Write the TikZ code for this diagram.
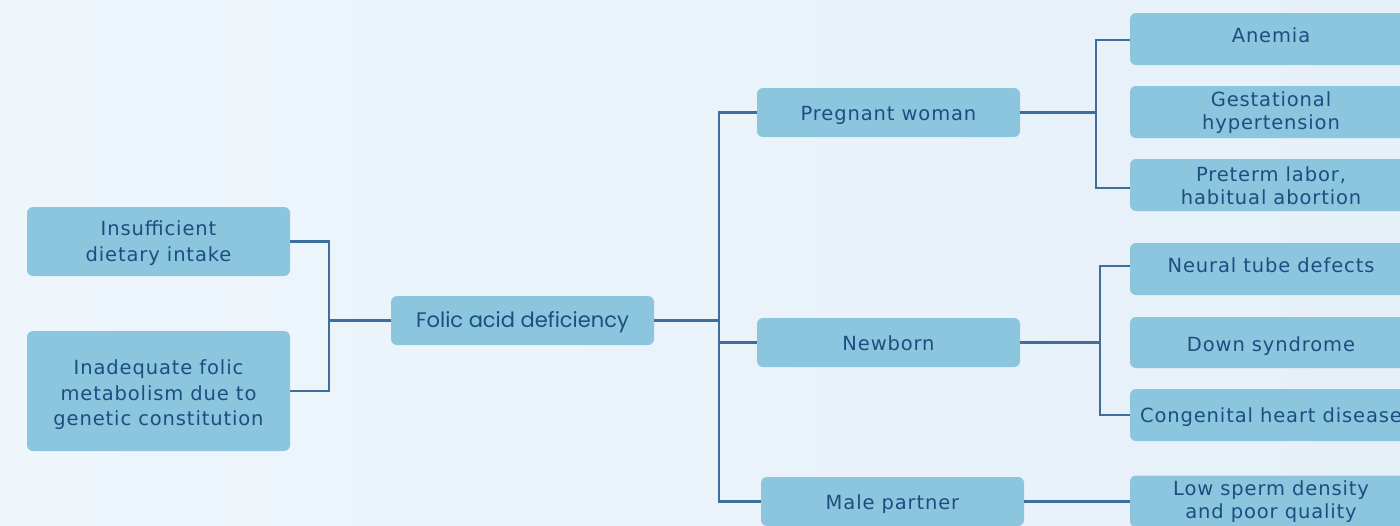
\documentclass[tikz,border=0pt]{standalone}
\usepackage{fontspec}
\setmainfont{DejaVu Sans}[LetterSpace=4.5]
\newfontfamily\popfont{Poppins}
\definecolor{bgA}{HTML}{EEF6FC}
\definecolor{bgB}{HTML}{E6F0F9}
\definecolor{boxfill}{HTML}{8CC5DE}
\definecolor{txtcol}{HTML}{1A4F80}
\definecolor{linecol}{HTML}{3C6E9E}
\newsavebox{\txbox}
\newcommand{\tx}[2]{\sbox{\txbox}{\begin{tabular}{@{}c@{}}#2\end{tabular}}\raisebox{#1}[\ht\txbox][\dp\txbox]{\usebox{\txbox}}}
\tikzset{
  box/.style={draw=none, fill=boxfill, rounded corners=6pt, inner sep=0pt,
    align=center, text=txtcol, font=\fontsize{19.5}{25.5}\selectfont},
  rbox/.style={box, minimum width=282pt, minimum height=52pt,
    font=\fontsize{19.5}{23}\selectfont},
  conn/.style={draw=linecol, line width=2.1pt}
}
\begin{document}
\begin{tikzpicture}[x=1pt,y=-1pt]
\useasboundingbox (0,0) rectangle (1400,525);
\clip (0,0) rectangle (1400,525);
\shade[left color=bgA, right color=bgB] (0,0) rectangle (1400,525);
% left column
\node[box, minimum width=263pt, minimum height=69pt] (ins) at (158.5,241.5) {\tx{-2pt}{Insufficient\\dietary intake}};
\node[box, minimum width=263pt, minimum height=120pt] (inad) at (158.5,391) {\tx{-4pt}{Inadequate folic\\metabolism due to\\genetic constitution}};
% centre
\node[box, minimum width=263pt, minimum height=49pt, font=\popfont\fontsize{21}{25}\selectfont] (folic) at (522.5,320.5) {\tx{-2pt}{Folic acid deficiency}};
% middle column
\node[box, minimum width=263pt, minimum height=49pt] (preg) at (888.5,112.5) {\tx{-3pt}{Pregnant woman}};
\node[box, minimum width=263pt, minimum height=49pt] (newb) at (888.5,342.5) {\tx{-3pt}{Newborn}};
\node[box, minimum width=263pt, minimum height=49pt] (male) at (892.5,501.5) {\tx{-3pt}{Male partner}};
% right column
\node[rbox] (anem) at (1271,39) {\tx{1pt}{Anemia}};
\node[rbox] (gest) at (1271,112) {\tx{-1pt}{Gestational\\hypertension}};
\node[rbox] (pret) at (1271,185) {\tx{-3pt}{Preterm labor,\\habitual abortion}};
\node[rbox] (neur) at (1271,269) {\tx{1pt}{Neural tube defects}};
\node[rbox, minimum height=51pt] (down) at (1271,342.5) {\tx{-4pt}{Down syndrome}};
\node[rbox] (cong) at (1271,415) {\tx{-3pt}{Congenital heart disease}};
\node[rbox] (low) at (1271,501.5) {\tx{-1pt}{Low sperm density\\and poor quality}};
% junctions
\coordinate (jL) at (329,320.5);
\coordinate (jM) at (719,320.5);
\coordinate (jP) at (1096,112.5);
\coordinate (jN) at (1100,342.5);
% connectors
\draw[conn] (ins.east) -| (jL) -- (folic.west);
\draw[conn] (inad.east) -| (jL);
\draw[conn] (folic.east) -- (jM);
\draw[conn] (jM) |- (preg.west);
\draw[conn] (jM) |- (newb.west);
\draw[conn] (jM) |- (male.west);
\draw[conn] (preg.east) -- (jP);
\draw[conn] (jP) |- ([yshift=-1pt]anem.west);
\draw[conn] (jP) |- ([yshift=-3pt]pret.west);
\draw[conn] (newb.east) -- (jN);
\draw[conn] (jN) |- ([yshift=3pt]neur.west);
\draw[conn] (jN) |- (cong.west);
\draw[conn] (male.east) -- (low.west);
\end{tikzpicture}
\end{document}
